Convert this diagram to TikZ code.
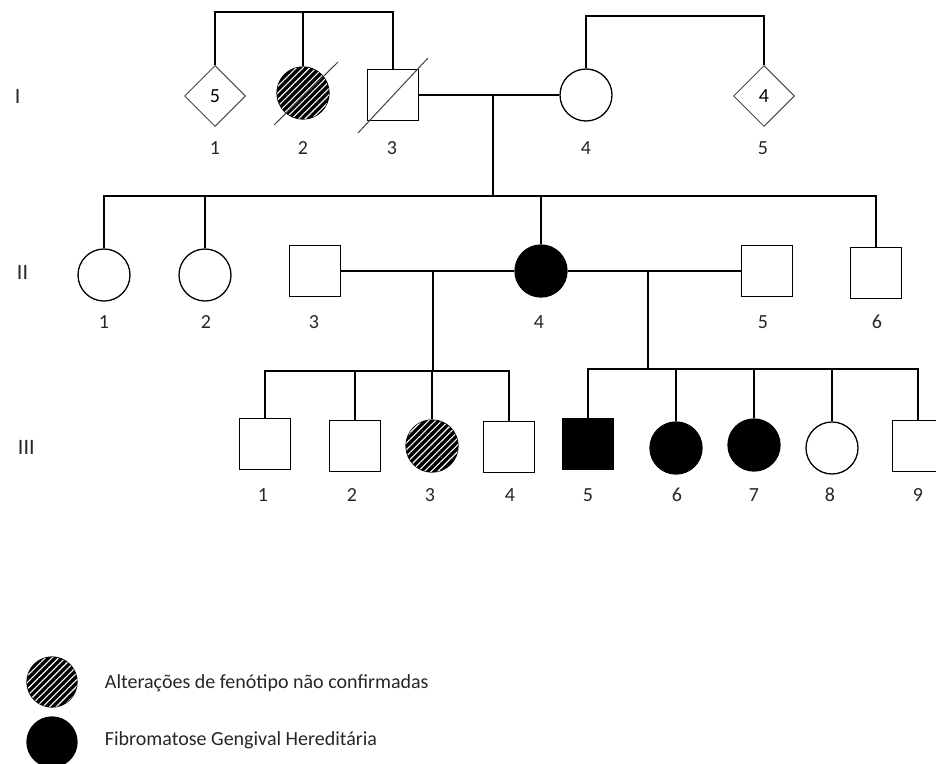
\documentclass[tikz,border=0pt]{standalone}
\usepackage{fontspec}
\setmainfont{Carlito}
\usetikzlibrary{shapes.geometric,patterns.meta}

\begin{document}
\begin{tikzpicture}[x=1pt,y=-1pt,line width=1.3pt]
\tikzstyle{male}=[draw,rectangle,minimum size=51pt,inner sep=0pt]
\tikzstyle{female}=[draw,circle,minimum size=52pt,inner sep=0pt]
\tikzstyle{unknown}=[draw=black!70,diamond,minimum size=61pt,inner sep=0pt,line width=1pt,font=\fontsize{20}{24}\selectfont]
\tikzstyle{affected}=[fill=black]
\tikzstyle{suspect}=[fill=black,postaction={pattern={Lines[angle=45,distance=4.7pt,line width=1.1pt]},pattern color=white}]
\tikzstyle{deceased}=[draw=black!75,line width=1pt]
\tikzstyle{num}=[font=\fontsize{20}{24}\selectfont,text=black!85]
\tikzstyle{gen}=[font=\fontsize{22}{26}\selectfont,text=black!85,anchor=west]
\useasboundingbox (0,0) rectangle (936,763);
\node[gen] (gI) at (11,96) {I};
\node[gen] (gII) at (13,272) {II};
\node[gen] (gIII) at (14,447) {III};
\node[unknown] (I1) at (215,96) {5};
\node[female,suspect] (I2) at (303,93) {};
\node[male] (I3) at (393,95) {};
\node[female] (I4) at (586,95) {};
\node[unknown] (I5) at (764,96) {4};
\draw[deceased] ([shift={(-29,32)}]I2.center) -- ([shift={(35,-31)}]I2.center);
\draw[deceased] ([shift={(-35,38)}]I3.center) -- ([shift={(35,-37)}]I3.center);
\node[num] (nI1) at (215,148) {1};
\node[num] (nI2) at (303,148) {2};
\node[num] (nI3) at (392,148) {3};
\node[num] (nI4) at (586,148) {4};
\node[num] (nI5) at (763,148) {5};
\coordinate (sA) at (0,12);
\coordinate (sC) at (0,16);
\draw (I1.north) -- (I1.north |- sA) -- (I3.north |- sA) -- (I3.north);
\draw (I2.north) -- (I2.north |- sA);
\draw (I4.north) -- (I4.north |- sC) -- (I5.north |- sC) -- (I5.north);
\draw (I3.east) -- (I4.west);
\coordinate (m1) at (493,95);
\coordinate (s2) at (493,196);
\draw (m1) -- (s2);
\node[female] (II1) at (104,275) {};
\node[female] (II2) at (205,275) {};
\node[male] (II3) at (315,271) {};
\node[female,affected] (II4) at (541,271) {};
\node[male] (II5) at (767,271) {};
\node[male] (II6) at (876,273) {};
\node[num] (nII1) at (104,322) {1};
\node[num] (nII2) at (206,322) {2};
\node[num] (nII3) at (314,322) {3};
\node[num] (nII4) at (539,322) {4};
\node[num] (nII5) at (763,322) {5};
\node[num] (nII6) at (877,322) {6};
\draw (II1.north) -- (II1.north |- s2) -- (II6.north |- s2) -- (II6.north);
\draw (II2.north) -- (II2.north |- s2);
\draw (II4.north) -- (II4.north |- s2);
\draw (II3.east) -- (II4.west);
\draw (II4.east) -- (II5.west);
\coordinate (m2) at (433,271);
\coordinate (s3a) at (433,371);
\coordinate (m3) at (648,271);
\coordinate (s3b) at (648,369);
\draw (m2) -- (s3a);
\draw (m3) -- (s3b);
\node[male] (III1) at (265,444) {};
\node[male] (III2) at (355,446) {};
\node[female,suspect] (III3) at (432,446) {};
\node[male] (III4) at (509,447) {};
\node[male,affected] (III5) at (588,444) {};
\node[female,affected] (III6) at (676,448) {};
\node[female,affected] (III7) at (754,445) {};
\node[female] (III8) at (832,448) {};
\node[male] (III9) at (918,446) {};
\node[num] (nIII1) at (263,495) {1};
\node[num] (nIII2) at (352,495) {2};
\node[num] (nIII3) at (430,495) {3};
\node[num] (nIII4) at (510,495) {4};
\node[num] (nIII5) at (588,495) {5};
\node[num] (nIII6) at (677,495) {6};
\node[num] (nIII7) at (754,495) {7};
\node[num] (nIII8) at (830,495) {8};
\node[num] (nIII9) at (918,495) {9};
\draw (III1.north) -- (III1.north |- s3a) -- (III4.north |- s3a) -- (III4.north);
\draw (III2.north) -- (III2.north |- s3a);
\draw (III3.north) -- (III3.north |- s3a);
\draw (III5.north) -- (III5.north |- s3b) -- (III9.north |- s3b) -- (III9.north);
\draw (III6.north) -- (III6.north |- s3b);
\draw (III7.north) -- (III7.north |- s3b);
\draw (III8.north) -- (III8.north |- s3b);
\node[female,suspect,minimum size=50pt] (key1) at (52,682) {};
\node[female,affected,minimum size=50pt] (key2) at (52,742) {};
\node[num,anchor=west] (tkey1) at (101,683) {Alterações de fenótipo não confirmadas};
\node[num,anchor=west] (tkey2) at (101,740) {Fibromatose Gengival Hereditária};
\end{tikzpicture}
\end{document}
